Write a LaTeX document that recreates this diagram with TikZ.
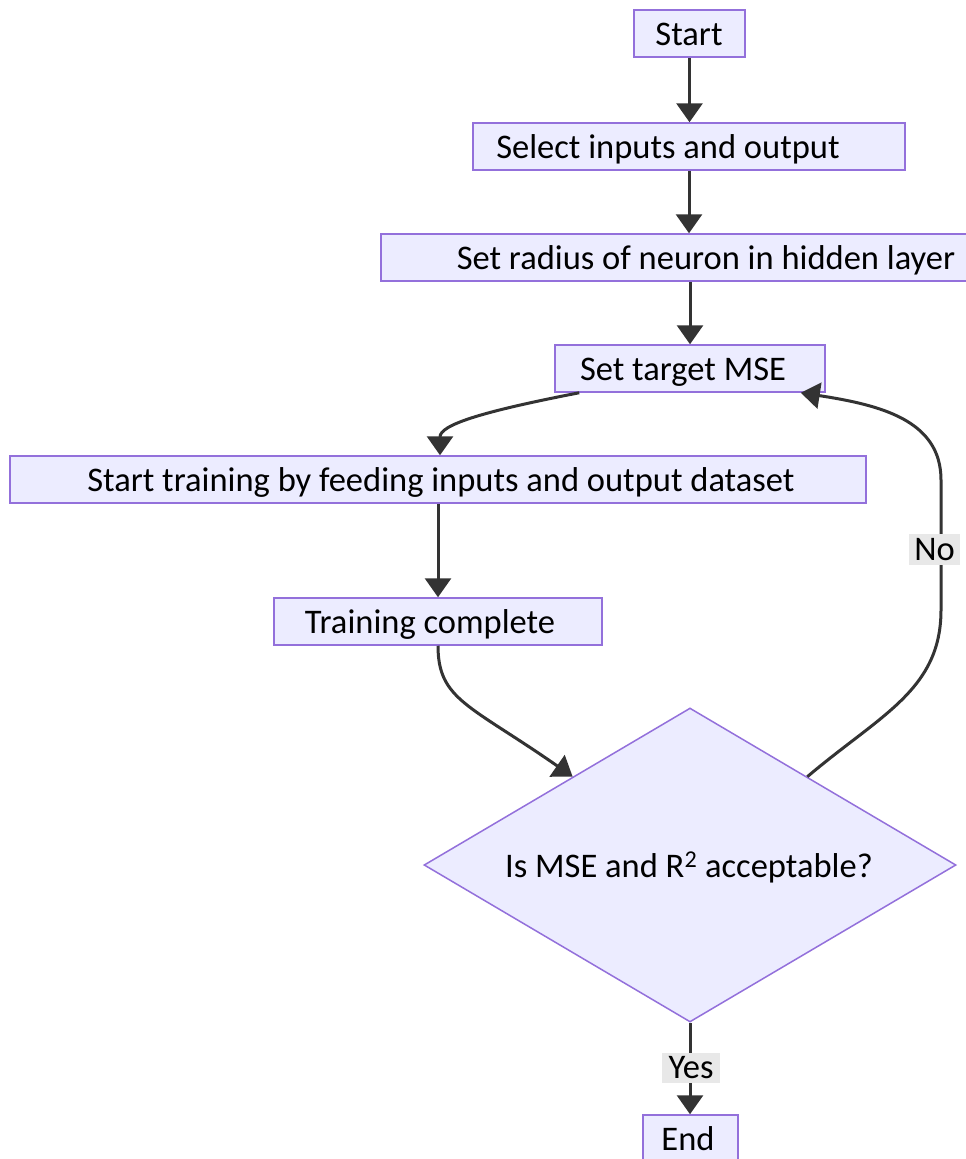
\documentclass[tikz,border=0pt]{standalone}
\usepackage{fontspec}
\setmainfont{Carlito}
\usetikzlibrary{shapes.geometric,arrows.meta,calc}
\definecolor{boxfill}{HTML}{ECECFF}
\definecolor{boxline}{HTML}{9370DB}
\definecolor{arrowc}{HTML}{333333}
\definecolor{lblbg}{HTML}{E8E8E8}
\begin{document}
\begin{tikzpicture}[x=1pt,y=-1pt,
  box/.style={rectangle, draw=boxline, fill=boxfill, line width=1.5pt, inner sep=0pt, minimum height=47pt},
  decision/.style={diamond, draw=boxline, fill=boxfill, line width=1.5pt, inner sep=0pt},
  txt/.style={font=\fontsize{34.5}{40}\selectfont, inner sep=0pt, anchor=base},
  arr/.style={draw=arrowc, line width=3pt, -{Triangle[length=19pt,width=26pt]}},
  lbl/.style={fill=lblbg, font=\fontsize{34.5}{40}\selectfont, inner sep=0pt}]
\clip (0,0) rectangle (966,1159);
\fill[white] (0,0) rectangle (966,1159);
% boxes
\node[box, minimum width=111] (start) at (689.5,33.5) {};
\node[box, minimum width=432] (select) at (689,146.5) {};
\node[box, minimum width=618] (radius) at (690,257.5) {};
\node[box, minimum width=270] (target) at (690,368.5) {};
\node[box, minimum width=856] (train) at (438,479.5) {};
\node[box, minimum width=328] (done) at (438,621.5) {};
\node[decision, minimum width=532, minimum height=314] (dia) at (690,865) {};
\node[box, minimum width=95] (endn) at (690.5,1138.5) {};
% texts
\node[txt] (startT) at (689,45.5) {Start};
\node[txt] (selectT) at (668,158.5) {Select inputs and output};
\node[txt] (radiusT) at (706,269.5) {Set radius of neuron in hidden layer};
\node[txt] (targetT) at (683,380.5) {Set target MSE};
\node[txt] (trainT) at (441,491.5) {Start training by feeding inputs and output dataset};
\node[txt] (doneT) at (430,633.5) {Training complete};
\node[txt] (diaT) at (689,877) {Is MSE and R\textsuperscript{2} acceptable?};
\node[txt] (endT) at (688,1150) {End};
% connectors
\draw[arr] (start.south) -- (start.south |- select.north);
\draw[arr] (select.south) -- (select.south |- radius.north);
\draw[arr] (radius.south) -- (radius.south |- target.north);
\draw[arr] ([xshift=25pt]target.south west) .. controls (480,412) and (440,425) .. ([xshift=2pt]train.north);
\draw[arr] (train.south) -- (train.south |- done.north);
\draw[arr] (done.south) .. controls (438,700) and (470,705) .. ($(dia.north)!0.44!(dia.west)$);
\draw[arr] ($(dia.north)!0.44!(dia.east)$) .. controls (880,715) and (941,690) .. (941,610) -- (941,480) .. controls (941,420) and (880,405) .. ([xshift=-25pt]target.south east);
\draw[arr] (dia.south) -- (dia.south |- endn.north);
% edge labels
\node[lbl, minimum width=51, minimum height=31] (no) at (934.5,549.5) {No};
\node[lbl, minimum width=58, minimum height=30] (yes) at (691,1068) {Yes};
\end{tikzpicture}
\end{document}
